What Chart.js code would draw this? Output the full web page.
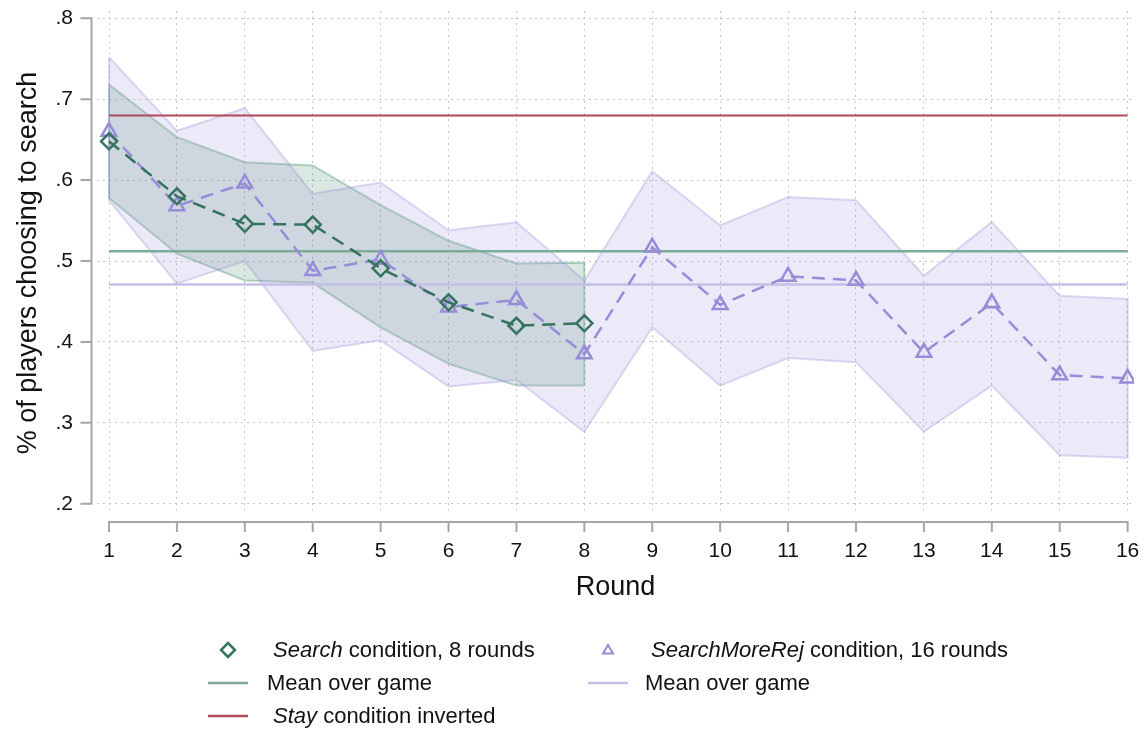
<!DOCTYPE html>
<html>
<head>
<meta charset="utf-8">
<script src="https://cdn.jsdelivr.net/npm/chart.js@4/dist/chart.umd.min.js"></script>
<style>
body{margin:0;background:#fff}
#wrap{position:relative;width:1145px;height:732px;font-family:"Liberation Sans",Arial,sans-serif}
#legend .row{position:absolute;height:30px;line-height:30px;font-size:22px;color:#111;white-space:nowrap}
#legend svg{position:absolute;top:0}
#legend span{position:absolute;top:0}
</style>
</head>
<body>
<div id="wrap">
<canvas id="c" width="1145" height="732"></canvas>
<div id="legend"></div>
</div>
<script>
// rounds of the game
let rounds=[1,2,3,4,5,6,7,8,9,10,11,12,13,14,15,16]
let yTicks=[0.2,0.3,0.4,0.5,0.6,0.7,0.8]

// Search condition (8 rounds): share searching + 95% band
let searchMean=[0.648,0.580,0.546,0.545,0.491,0.449,0.420,0.423]
let searchHi=[0.718,0.653,0.622,0.618,0.569,0.525,0.497,0.498]
let searchLo=[0.578,0.509,0.476,0.473,0.418,0.373,0.346,0.346]

// SearchMoreRej condition (16 rounds)
let moreRejMean=[0.660,0.568,0.596,0.488,0.502,0.443,0.452,0.385,0.517,0.446,0.481,0.476,0.387,0.448,0.359,0.355]
let moreRejHi=[0.752,0.661,0.689,0.583,0.597,0.538,0.548,0.476,0.611,0.544,0.579,0.575,0.482,0.548,0.457,0.453]
let moreRejLo=[0.575,0.472,0.500,0.389,0.402,0.345,0.353,0.289,0.418,0.346,0.380,0.375,0.289,0.346,0.260,0.257]

// means over the whole game
let searchGameMean=0.512
let moreRejGameMean=0.471
let stayInverted=0.680

const GREEN="#35735f"
const GREEN_MEAN="#7fab9b"
const PURPLE="#968cd7"
const PURPLE_MEAN="#c4bfe9"
const RED="#b04b55"
const AXIS="#a6a6a6"

function pts(xs,ys){
return ys.map((y,i)=>({x:xs[i],y:y}))
}

// closed outline: upper edge left->right, lower edge back
function band(xs,hi,lo){
let p=pts(xs,hi)
for(let i=lo.length-1;i>=0;i--) p.push({x:xs[i],y:lo[i]})
p.push({x:xs[0],y:hi[0]})
return p
}

function hline(y){
return [{x:rounds[0],y:y},{x:rounds[rounds.length-1],y:y}]
}

let sRounds=rounds.slice(0,searchMean.length)

// keep the plot region fixed, no extra room for edge labels
function noEdgePad(s){
s.paddingTop=0
s.paddingBottom=0
s.paddingLeft=0
s.paddingRight=0
}

// stata-style axis lines, set off from the plot region
const axisLines={
id:"axisLines",
afterDraw(chart){
let ctx=chart.ctx
let xs=chart.scales.x
let ys=chart.scales.y
let a=chart.chartArea
ctx.save()
ctx.strokeStyle=AXIS
ctx.lineWidth=2
ctx.lineCap="butt"

let ax=a.left-5.5
ctx.beginPath()
ctx.moveTo(ax,ys.getPixelForValue(yTicks[yTicks.length-1])-1)
ctx.lineTo(ax,ys.getPixelForValue(yTicks[0])+1)
yTicks.forEach(v=>{
let py=ys.getPixelForValue(v)
ctx.moveTo(ax-11,py)
ctx.lineTo(ax,py)
})
ctx.stroke()

let ay=a.bottom+7
ctx.beginPath()
ctx.moveTo(xs.getPixelForValue(rounds[0])-1,ay)
ctx.lineTo(xs.getPixelForValue(rounds[rounds.length-1])+1,ay)
rounds.forEach(v=>{
let px=xs.getPixelForValue(v)
ctx.moveTo(px,ay)
ctx.lineTo(px,ay+10)
})
ctx.stroke()
ctx.restore()
}
}

new Chart(document.getElementById("c"),{
type:"line",
data:{
datasets:[
{
data:pts(sRounds,searchMean),
borderColor:GREEN,borderWidth:2.5,borderDash:[13,8],
pointStyle:"rectRot",pointRadius:8,pointBorderWidth:2.5,
pointBorderColor:GREEN,pointBackgroundColor:"rgba(0,0,0,0)",
fill:false,order:1
},
{
data:pts(rounds,moreRejMean),
borderColor:PURPLE,borderWidth:2.5,borderDash:[13,8],
pointStyle:"triangle",pointRadius:8.5,pointBorderWidth:2.5,
pointBorderColor:PURPLE,pointBackgroundColor:"rgba(0,0,0,0)",
fill:false,order:2
},
{
data:hline(stayInverted),
borderColor:RED,borderWidth:2,pointRadius:0,fill:false,order:3
},
{
data:hline(searchGameMean),
borderColor:GREEN_MEAN,borderWidth:2.5,pointRadius:0,fill:false,order:4
},
{
data:hline(moreRejGameMean),
borderColor:PURPLE_MEAN,borderWidth:2.5,pointRadius:0,fill:false,order:5
},
{
data:band(rounds,moreRejHi,moreRejLo),
borderColor:"rgba(150,140,215,0.32)",borderWidth:2,
backgroundColor:"rgba(150,140,215,0.18)",
pointRadius:0,fill:"shape",tension:0,order:6
},
{
data:band(sRounds,searchHi,searchLo),
borderColor:"rgba(50,127,94,0.32)",borderWidth:2,
backgroundColor:"rgba(50,127,94,0.18)",
pointRadius:0,fill:"shape",tension:0,order:7
}
]
},
options:{
responsive:false,
animation:false,
layout:{padding:{top:0,right:5,left:0,bottom:0}},
plugins:{legend:{display:false},tooltip:{enabled:false}},
scales:{
x:{
type:"linear",
min:0.8232,max:16.094,
afterBuildTicks:s=>{s.ticks=rounds.map(v=>({value:v}))},
afterFit:s=>{s.height=217;noEdgePad(s)},
grid:{color:"#c4c4c4",lineWidth:1,drawTicks:false},
border:{display:false,dash:[2,4]},
ticks:{padding:24,color:"#111",font:{family:"Liberation Sans",size:21},maxRotation:0,autoSkip:false,
callback:v=>String(v)},
title:{display:true,text:"Round",color:"#111",
font:{family:"Liberation Sans",size:27},padding:{top:0,bottom:128}}
},
y:{
min:0.1861,max:0.809,
afterBuildTicks:s=>{s.ticks=yTicks.map(v=>({value:v}))},
afterFit:s=>{s.width=97;noEdgePad(s)},
grid:{color:"#c4c4c4",lineWidth:1,drawTicks:false},
border:{display:false,dash:[2,4]},
ticks:{padding:24,color:"#111",font:{family:"Liberation Sans",size:21},
callback:v=>v.toFixed(1).replace(/^0/,"")},
title:{display:true,text:"% of players choosing to search",color:"#111",
font:{family:"Liberation Sans",size:27},padding:{top:12,bottom:0}}
}
}
},
plugins:[axisLines]
})

// legend below the plot
let legendRows=[
{x:208,y:650,mark:"diamond",color:GREEN,tx:273,html:"<i>Search</i> condition, 8 rounds"},
{x:588,y:650,mark:"triangle",color:PURPLE,tx:651,html:"<i>SearchMoreRej</i> condition, 16 rounds"},
{x:208,y:683,mark:"line",color:GREEN_MEAN,tx:267,html:"Mean over game"},
{x:588,y:683,mark:"line",color:PURPLE_MEAN,tx:645,html:"Mean over game"},
{x:208,y:716,mark:"line",color:RED,tx:273,html:"<i>Stay</i> condition inverted"}
]

function markSvg(m,c){
if(m==="line") return `<svg width="40" height="30"><line x1="0" y1="15" x2="40" y2="15" stroke="${c}" stroke-width="2.5"/></svg>`
if(m==="diamond") return `<svg width="40" height="30"><polygon points="20,8 27,15 20,22 13,15" fill="none" stroke="${c}" stroke-width="2.5"/></svg>`
return `<svg width="40" height="30"><polygon points="20,10 25,18.5 15,18.5" fill="none" stroke="${c}" stroke-width="2"/></svg>`
}

let lg=document.getElementById("legend")
legendRows.forEach(r=>{
let d=document.createElement("div")
d.className="row"
d.style.left=r.x+"px"
d.style.top=(r.y-15)+"px"
d.innerHTML=markSvg(r.mark,r.color)+`<span style="left:${r.tx-r.x}px">${r.html}</span>`
lg.appendChild(d)
})
</script>
</body>
</html>
